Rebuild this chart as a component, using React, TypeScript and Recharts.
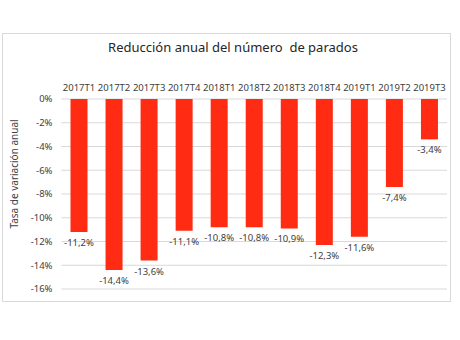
import { Bar, BarChart, CartesianGrid, LabelList, XAxis, YAxis } from "recharts"

const periods = [
  "2017T1", "2017T2", "2017T3", "2017T4",
  "2018T1", "2018T2", "2018T3", "2018T4",
  "2019T1", "2019T2", "2019T3",
]
const rates = [-11.2, -14.4, -13.6, -11.1, -10.8, -10.8, -10.9, -12.3, -11.6, -7.4, -3.4]
const yTicks = [0, -2, -4, -6, -8, -10, -12, -14, -16]

const data = periods.map((p, i) => ({ period: p, rate: rates[i] }))

const font = "'Noto Sans', sans-serif"
const fmt = (v: number) => `${v.toFixed(1).replace(".", ",")}%`

// label under the end of a negative bar
const BelowLabel = (props: any) => {
  const { x, y, width, height, value } = props
  const bottom = Math.max(Number(y), Number(y) + Number(height))
  return (
    <text
      x={Number(x) + Number(width) / 2}
      y={bottom + 14}
      textAnchor="middle"
      fontSize={9.5}
      fill="#404040"
      fontFamily={font}
    >
      {fmt(Number(value))}
    </text>
  )
}

export default function App() {
  return (
    <div style={{ position: "absolute", left: 0, top: 0, width: 460, height: 340, background: "#fff", fontFamily: font }}>
      <div style={{ position: "absolute", left: 2, top: 33, width: 447, height: 267, border: "1px solid #d9d9d9" }} />
      <div style={{ position: "absolute", left: 0, top: 38, width: 466, textAlign: "center", fontSize: 13, color: "#262626" }}>
        Reducción anual del número&nbsp; de parados
      </div>
      <div
        style={{
          position: "absolute",
          left: 14,
          top: 174,
          fontSize: 10,
          color: "#404040",
          whiteSpace: "nowrap",
          transform: "translate(-50%, -50%) rotate(-90deg)",
        }}
      >
        Tasa de variación anual
      </div>
      <div style={{ position: "absolute", left: 0, top: 0 }}>
        <BarChart width={460} height={340} data={data} margin={{ top: 70, right: 13, bottom: 51, left: 5 }}>
          <CartesianGrid vertical={false} stroke="#d9d9d9" />
          <XAxis
            dataKey="period"
            orientation="top"
            axisLine={false}
            tickLine={false}
            height={29}
            interval={0}
            tick={{ fontSize: 9.5, fill: "#404040", fontFamily: font }}
          />
          <YAxis
            domain={[-16, 0]}
            ticks={yTicks}
            width={56.5}
            axisLine={false}
            tickLine={false}
            tickMargin={3}
            tickFormatter={(v: number) => `${v}%`}
            tick={{ fontSize: 9.5, fill: "#404040", fontFamily: font }}
          />
          <Bar dataKey="rate" fill="#ff2b12" barSize={17} isAnimationActive={false}>
            <LabelList dataKey="rate" content={BelowLabel} />
          </Bar>
        </BarChart>
      </div>
    </div>
  )
}
